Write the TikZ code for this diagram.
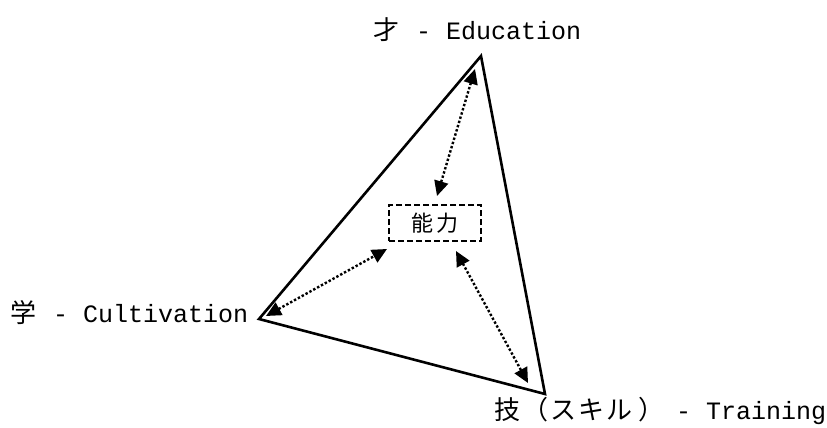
\documentclass[tikz,border=0pt]{standalone}
\usepackage{fontspec}
\setmainfont{Liberation Mono}
\newfontfamily\cjk{Noto Sans CJK JP}
\newcommand\zw[2][30pt]{\makebox[#1]{\cjk\fontsize{26}{28}\selectfont #2}}
\usetikzlibrary{arrows.meta}
\tikzset{
  edge/.style={line width=2.6pt, line join=miter},
  link/.style={line width=2.4pt, dash pattern=on 2.4pt off 2pt, {Triangle[length=15pt,width=14pt]}-{Triangle[length=15pt,width=14pt]}},
  lab/.style={inner sep=0pt, font=\fontsize{25}{27}\selectfont},
  core/.style={draw, dash pattern=on 6pt off 3pt, line width=2.4pt, minimum width=92pt, minimum height=36pt, inner sep=0pt, font=\cjk\fontsize{22}{24}\selectfont}
}
\begin{document}
\begin{tikzpicture}[x=1pt,y=-1pt]
\useasboundingbox (0,0) rectangle (827,428);
\coordinate (T) at (481,56);
\coordinate (L) at (259,319);
\coordinate (B) at (545,394);
\draw[edge] (T) -- (L) -- (B) -- cycle;
\node[core] (C) at (435,223) {能\,力};
\coordinate (t1) at (475,69);
\coordinate (t2) at (437,196);
\coordinate (l1) at (266,316);
\coordinate (l2) at (387,249);
\coordinate (b1) at (456,251);
\coordinate (b2) at (528,383);
\draw[link] (t1) -- (t2);
\draw[link] (l1) -- (l2);
\draw[link] (b1) -- (b2);
\node[lab, anchor=west] (ed) at (371,30) {\zw{才} - Education};
\node[lab, anchor=west] (cu) at (8,313) {\zw{学} - Cultivation};
\node[lab, anchor=west] (tr) at (493,411) {\zw[28pt]{技}\zw[28pt]{（}\zw[28pt]{ス}\zw[28pt]{キ}\zw[28pt]{ル}\hspace*{5pt}\makebox[23pt][l]{\cjk\fontsize{26}{28}\selectfont ）} - Training};
\end{tikzpicture}
\end{document}
